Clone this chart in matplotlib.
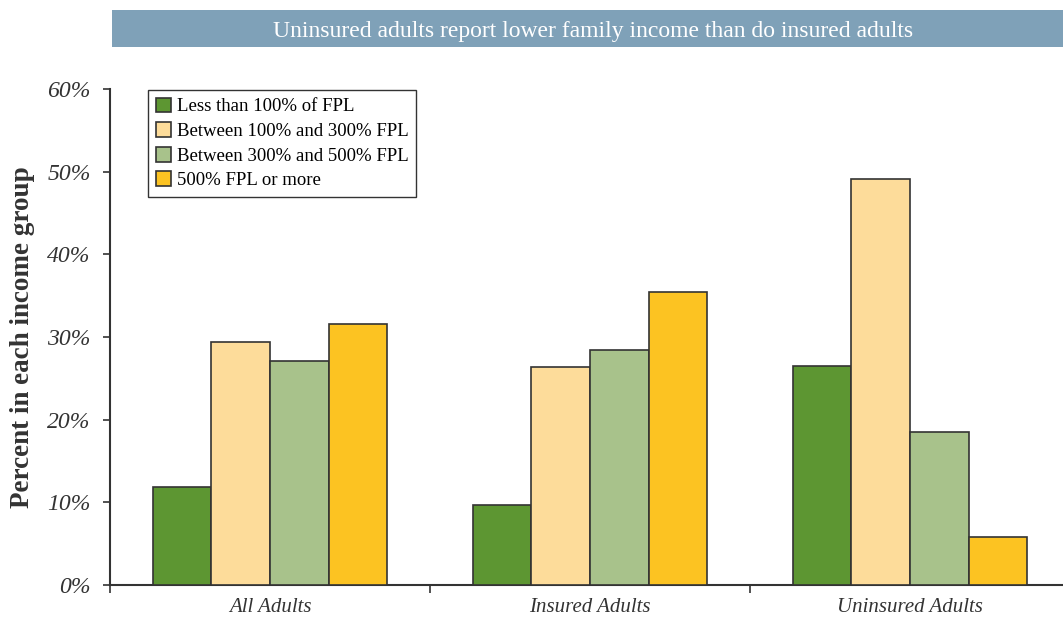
import matplotlib
matplotlib.use("Agg")
import matplotlib.pyplot as plt
import numpy as np
from matplotlib.patches import Rectangle

categories = ["All Adults", "Insured Adults", "Uninsured Adults"]
series_names = ["Less than 100% of FPL", "Between 100% and 300% FPL",
                "Between 300% and 500% FPL", "500% FPL or more"]
less_100 = [11.9, 9.7, 26.5]
b100_300 = [29.4, 26.4, 49.1]
b300_500 = [27.1, 28.4, 18.5]
over_500 = [31.6, 35.4, 5.8]
yticks = [0, 10, 20, 30, 40, 50, 60]
colors = ["#5d9632", "#fddc9a", "#a8c28b", "#fcc322"]

plt.rcParams['font.family'] = ['Liberation Serif', 'DejaVu Serif']

fig = plt.figure(figsize=(10.63, 6.17), dpi=100)
ax = fig.add_axes([110/1063, 1-585/617, 1-110/1063, (585-89)/617])

series = [less_100, b100_300, b300_500, over_500]
x = np.arange(len(categories))
w = 0.183
for i, (vals, c, name) in enumerate(zip(series, colors, series_names)):
    ax.bar(x + (i - 1.5) * w, vals, width=w, color=c, edgecolor="#333333",
           linewidth=1.2, label=name, zorder=3)

ax.set_xlim(-0.5, 2.478)
ax.set_ylim(0, 60)
ax.set_yticks(yticks)
ax.set_yticklabels([f"{v}%" for v in yticks], fontsize=17, style='italic', color="#333333")
ax.set_xticks(x)
ax.set_xticklabels(categories, fontsize=15, style='italic', color="#333333")
ax.tick_params(axis='x', which='major', length=0, pad=9)
ax.set_xticks([-0.5, 0.5, 1.5], minor=True)
ax.tick_params(axis='x', which='minor', length=6, width=1.2, color="#333333")
ax.tick_params(axis='y', length=5, width=1.2, color="#333333", pad=9)
for s in ['top', 'right']:
    ax.spines[s].set_visible(False)
for s in ['left', 'bottom']:
    ax.spines[s].set_color("#333333")
    ax.spines[s].set_linewidth(1.5)

ax.set_ylabel("Percent in each income group", fontsize=19.5, fontweight='bold',
              color="#333333", labelpad=9)

leg = ax.legend(loc='upper left', bbox_to_anchor=(38/953, (585-90)/496), fontsize=13.5,
                frameon=True, fancybox=False, edgecolor="#333333",
                handlelength=0.85, handleheight=0.85, handletextpad=0.3,
                borderpad=0.4, labelspacing=0.35, borderaxespad=0)
leg.get_frame().set_linewidth(1.0)
leg.get_frame().set_alpha(1)

# Title banner
fig.patches.append(Rectangle((112/1063, 1-47/617), 1-112/1063, 37/617,
                             transform=fig.transFigure, facecolor="#7fa1b8",
                             edgecolor="none"))
fig.text((112+1063)/2/1063 + 0.005, 1-31/617,
         "Uninsured adults report lower family income than do insured adults",
         ha='center', va='center', color='white', fontsize=17)

fig.savefig("out.png", dpi=100)
